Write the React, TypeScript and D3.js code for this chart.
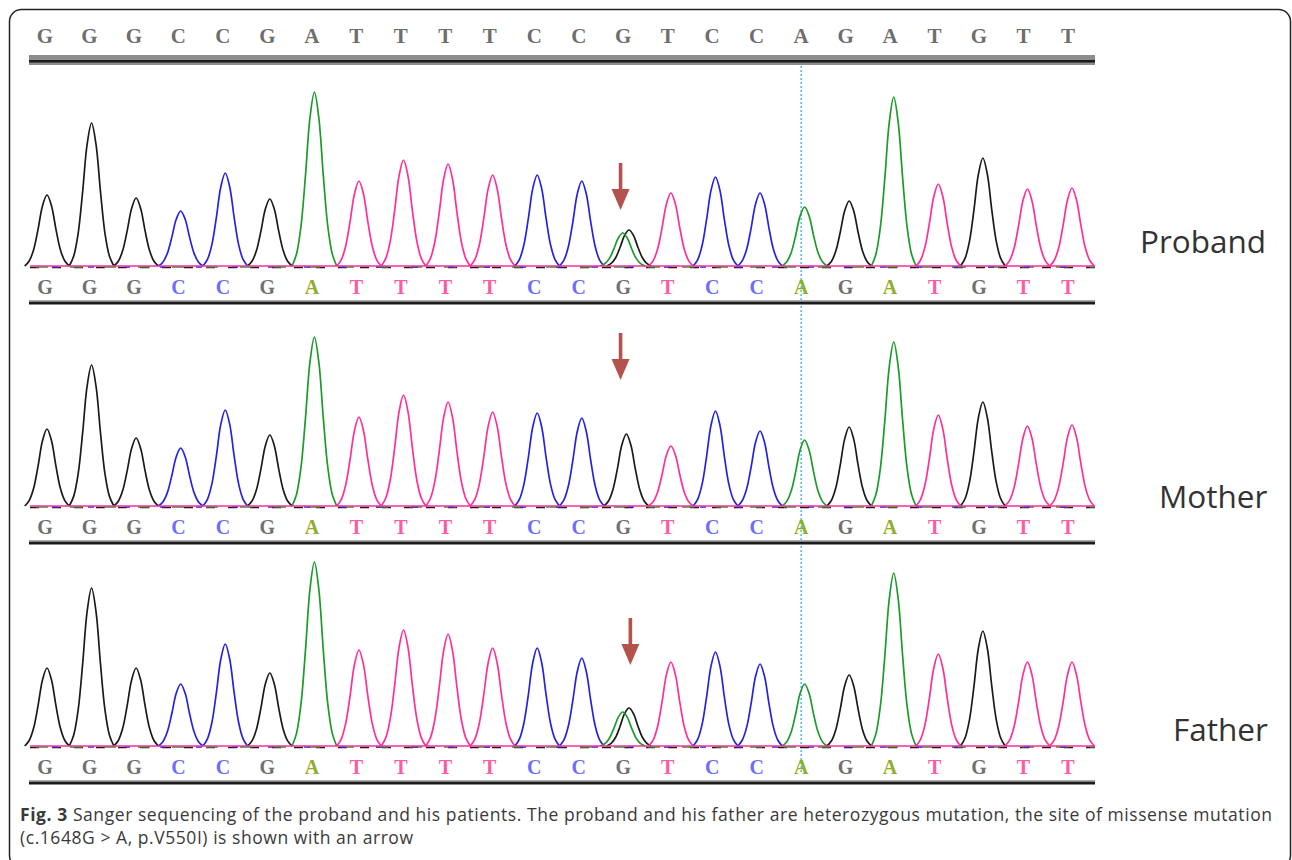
import React from 'react';
import * as d3 from 'd3';

// base calls (same for all three samples)
const bases = ['G','G','G','C','C','G','A','T','T','T','T','C','C','G','T','C','C','A','G','A','T','G','T','T'];

// primary peak heights at each base call
const probandHeights = [71,143,68,55,93,67,174,85,106,102,91,91,85,36,73,89,73,59,65,169,82,108,77,78];
const motherHeights = [77,141,68,58,96,71,169,89,111,104,94,93,88,72,60,95,75,66,79,164,91,104,80,81];
const fatherHeights = [78,158,78,62,102,73,184,96,116,112,98,98,88,38,84,94,82,62,71,173,92,115,84,84];

// secondary (heterozygous) peaks: [base index, base, height]
const probandExtra: [number, string, number][] = [[13, 'A', 33]];
const motherExtra: [number, string, number][] = [];
const fatherExtra: [number, string, number][] = [[13, 'A', 34]];

const samples = ['Proband', 'Mother', 'Father'];
const mutationIndex = 13;
const markerIndex = 17;

const traceColor: Record<string, string> = { G: '#1b1b1b', A: '#1e9a2c', C: '#2424e0', T: '#ff2f98' };
const callColor: Record<string, string> = { G: '#707070', A: '#8fae2a', C: '#6c6cff', T: '#ff5aa5' };

// shape of a single peak (offset in bases, relative height)
const profile: [number, number][] = [
  [-0.5, 0], [-0.4, 0.07], [-0.3, 0.23], [-0.2, 0.52], [-0.1, 0.85], [0, 1],
  [0.1, 0.85], [0.2, 0.52], [0.3, 0.23], [0.4, 0.07], [0.5, 0],
];

const W = 1292;
const H = 860;

export default function App() {
  const xLetter = d3.scaleLinear().domain([0, bases.length - 1]).range([45, 1068]);
  const xPeak = d3.scaleLinear().domain([0, bases.length - 1]).range([47, 1072]);
  const unit = xPeak(1) - xPeak(0);

  const heights = [probandHeights, motherHeights, fatherHeights];
  const extras = [probandExtra, motherExtra, fatherExtra];
  const baselines = [266, 506, 746];
  const arrowIdx = [mutationIndex - 0.13, mutationIndex - 0.13, mutationIndex + 0.09];
  const arrowTop = [163, 333, 618];
  const labelX = [1140, 1159, 1173];
  const labelY = [253, 508, 741];

  const monoFont = "'Liberation Serif', 'DejaVu Serif', serif";
  const sansFont = "'Open Sans', 'Noto Sans', sans-serif";

  const peakPath = (center: number, h: number, y: d3.ScaleLinear<number, number>) =>
    d3.line<[number, number]>()
      .x(d => center + d[0] * unit)
      .y(d => y(d[1] * h))
      .curve(d3.curveCatmullRom)(profile) || '';

  return (
    <svg width={W} height={H} style={{ position: 'absolute', left: 0, top: 0, background: '#fff' }}
      xmlns="http://www.w3.org/2000/svg">
      <rect width={W} height={H} fill="#fff" />
      {/* frame */}
      <rect x={9.5} y={9.5} width={1281} height={858} rx={12} fill="none" stroke="#222" strokeWidth={1.5} />

      {/* header sequence */}
      {bases.map((b, i) => (
        <text key={'h' + i} x={xLetter(i)} y={43} textAnchor="middle" fontFamily={monoFont}
          fontWeight="bold" fontSize={21} fill="#6e6e6e">{b}</text>
      ))}
      <rect x={29} y={55} width={1066} height={10} fill="#8c8c8c" />
      <rect x={29} y={60} width={1066} height={2.5} fill="#1a1a1a" />

      {/* marker line */}
      <line x1={xLetter(markerIndex)} x2={xLetter(markerIndex)} y1={66} y2={772}
        stroke="#19b2ea" strokeWidth={1.2} strokeDasharray="2 2" />

      {samples.map((name, p) => {
        const base = baselines[p];
        const y = d3.scaleLinear().domain([0, 200]).range([base, base - 200]);
        const ax = xPeak(arrowIdx[p]);
        const at = arrowTop[p];
        return (
          <g key={name}>
            {/* baselines */}
            <line x1={30} x2={1095} y1={y(0) + 1.5} y2={y(0) + 1.5} stroke={traceColor.G} strokeWidth={1.6} strokeDasharray="9 13" />
            <line x1={36} x2={1095} y1={y(0) + 1} y2={y(0) + 1} stroke={traceColor.A} strokeWidth={1.6} strokeDasharray="12 22" />
            <line x1={52} x2={1095} y1={y(0) + 1} y2={y(0) + 1} stroke={traceColor.C} strokeWidth={1.6} strokeDasharray="6 30" />
            {/* peaks */}
            {heights[p].map((h, i) => {
              const shift = i === mutationIndex && extras[p].length ? 0.06 : 0;
              return (
                <path key={'pk' + i} d={peakPath(xPeak(i + shift), h, y)} fill="none"
                  stroke={traceColor[bases[i]]} strokeWidth={1.7} strokeLinejoin="round" />
              );
            })}
            {extras[p].map(([i, b, h], k) => (
              <path key={'ex' + k} d={peakPath(xPeak(i - 0.08), h, y)} fill="none"
                stroke={traceColor[b]} strokeWidth={1.7} strokeLinejoin="round" />
            ))}
            <line x1={30} x2={1095} y1={y(0)} y2={y(0)} stroke={traceColor.T} strokeWidth={1.6} />

            {/* base calls */}
            {bases.map((b, i) => (
              <text key={'c' + i} x={xLetter(i)} y={base + 28} textAnchor="middle" fontFamily={monoFont}
                fontWeight="bold" fontSize={20} fill={callColor[b]}>{b}</text>
            ))}
            <rect x={29} y={base + 34} width={1066} height={1.2} fill="#aaaaaa" />
            <rect x={29} y={base + 35.5} width={1066} height={3} fill="#1a1a1a" />

            {/* arrow */}
            <g fill="#b4524e">
              <rect x={ax - 1.8} y={at} width={3.6} height={30} />
              <path d={`M${ax - 9},${at + 26} L${ax + 9},${at + 26} L${ax},${at + 47} Z`} />
            </g>

            {/* sample label */}
            <text x={labelX[p]} y={labelY[p]} fontFamily={sansFont} fontSize={31.5} fill="#333">{name}</text>
          </g>
        );
      })}

      {/* caption */}
      <text x={20} y={821} fontFamily={sansFont} fontSize={17.5} fill="#3a3a3a" textLength={1252} lengthAdjust="spacing">
        <tspan fontWeight="bold">Fig. 3</tspan>
        <tspan> Sanger sequencing of the proband and his patients. The proband and his father are heterozygous mutation, the site of missense mutation</tspan>
      </text>
      <text x={20} y={844} fontFamily={sansFont} fontSize={17.5} fill="#3a3a3a" textLength={393} lengthAdjust="spacing">
        (c.1648G &gt; A, p.V550I) is shown with an arrow
      </text>
    </svg>
  );
}
